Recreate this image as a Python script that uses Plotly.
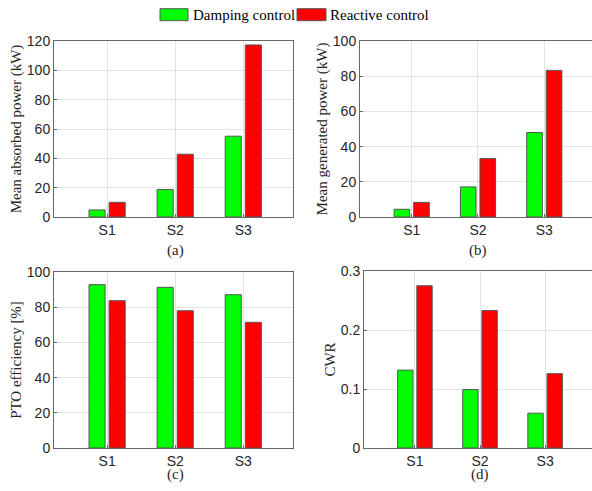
import plotly.graph_objects as go

# Sea states
categories = ["S1", "S2", "S3"]
series_names = ["Damping control", "Reactive control"]

# (a) Mean absorbed power (kW)
absorbed_damping = [4.8, 18.7, 55.1]
absorbed_reactive = [10.0, 42.8, 117.3]
# (b) Mean generated power (kW)
generated_damping = [4.4, 17.1, 48.0]
generated_reactive = [8.3, 33.2, 83.3]
# (c) PTO efficiency [%]
efficiency_damping = [92.8, 91.3, 87.1]
efficiency_reactive = [83.7, 78.0, 71.4]
# (d) Capture width ratio
cwr_damping = [0.132, 0.099, 0.059]
cwr_reactive = [0.275, 0.233, 0.126]

panel_titles = ["Mean absorbed power (kW)", "Mean generated power (kW)",
                "PTO efficiency [%]", "CWR"]
panel_tags = ["(a)", "(b)", "(c)", "(d)"]
y_ticks = [[0, 20, 40, 60, 80, 100, 120], [0, 20, 40, 60, 80, 100],
           [0, 20, 40, 60, 80, 100], [0, 0.1, 0.2, 0.3]]
y_ticktext = [None, None, None, ["0", "0.1", "0.2", "0.3"]]
y_ranges = [[0, 120], [0, 100], [0, 100], [0, 0.3]]

panels = [
    (absorbed_damping, absorbed_reactive),
    (generated_damping, generated_reactive),
    (efficiency_damping, efficiency_reactive),
    (cwr_damping, cwr_reactive),
]

W, H = 592, 491
colors = ["#00ff00", "#ff0000"]
x_pos = [1, 2, 3]

# axis boxes in pixels: left, right, top, bottom
boxes = [(54, 293, 41, 217), (360, 592, 41, 217),
         (54, 293, 272, 448), (364, 592, 271, 448)]
x_ranges = [[0.22, 3.73], [0.22, 3.72], [0.22, 3.73], [0.218, 3.72]]
right_framed = [True, False, True, False]
tag_rows = [250, 250, 474, 474]

fig = go.Figure()
axis_color = "#666666"
tick_font = dict(family="Liberation Sans, Arial, sans-serif", size=14, color="#262626")
serif = "Liberation Serif, Times New Roman, serif"

for i, (damp, react) in enumerate(panels):
    n = "" if i == 0 else str(i + 1)
    xa, ya = "x" + n, "y" + n
    for s, vals in enumerate((damp, react)):
        fig.add_trace(go.Bar(
            x=x_pos, y=vals, name=series_names[s], showlegend=False,
            marker=dict(color=colors[s], line=dict(color="#555555", width=1)),
            xaxis=xa, yaxis=ya, offsetgroup=str(s),
        ))
    l, r, t, b = boxes[i]
    fig.layout["xaxis" + n] = dict(
        domain=[l / W, min(r / W, 1)], anchor=ya, range=x_ranges[i],
        tickvals=x_pos, ticktext=categories, tickfont=tick_font,
        showgrid=True, gridcolor="#e3e3e3", gridwidth=1, automargin=False,
        showline=True, linecolor=axis_color, linewidth=1, mirror=True,
        ticks="inside", ticklen=3, tickcolor=axis_color, zeroline=False,
    )
    fig.layout["yaxis" + n] = dict(
        domain=[1 - b / H, 1 - t / H], anchor=xa, range=y_ranges[i],
        tickvals=y_ticks[i], ticktext=y_ticktext[i], tickfont=tick_font,
        showgrid=True, gridcolor="#e3e3e3", gridwidth=1, automargin=False,
        showline=True, linecolor=axis_color, linewidth=1,
        mirror=True if right_framed[i] else False,
        ticks="inside", ticklen=3, tickcolor=axis_color, zeroline=False,
        title=dict(text=panel_titles[i], font=dict(family=serif, size=15, color="#262626"),
                   standoff=1),
    )
    fig.add_annotation(
        x=2, xref=xa, y=1 - tag_rows[i] / H, yref="paper",
        xanchor="center", yanchor="middle",
        text=panel_tags[i], showarrow=False,
        font=dict(family=serif, size=15, color="#262626"),
    )

# Legend row drawn as wide swatches with labels
legend_items = [(160, 188, 191), (297, 326, 328)]
for s, (x0, x1, tx) in enumerate(legend_items):
    fig.add_shape(type="rect", xref="paper", yref="paper",
                  x0=x0 / W, x1=x1 / W, y0=1 - 20.7 / H, y1=1 - 8.7 / H,
                  fillcolor=colors[s], line=dict(color="#555555", width=1))
    fig.add_annotation(x=tx / W, y=1 - 14.7 / H, xref="paper", yref="paper",
                       xanchor="left", yanchor="middle", showarrow=False,
                       text=series_names[s],
                       font=dict(family=serif, size=15, color="#000000"))

fig.update_layout(
    width=W, height=H, margin=dict(l=0, r=0, t=0, b=0),
    paper_bgcolor="white", plot_bgcolor="white",
    barmode="group", bargap=0.41, bargroupgap=0.2,
    showlegend=False,
)

fig.write_html("out.html")
